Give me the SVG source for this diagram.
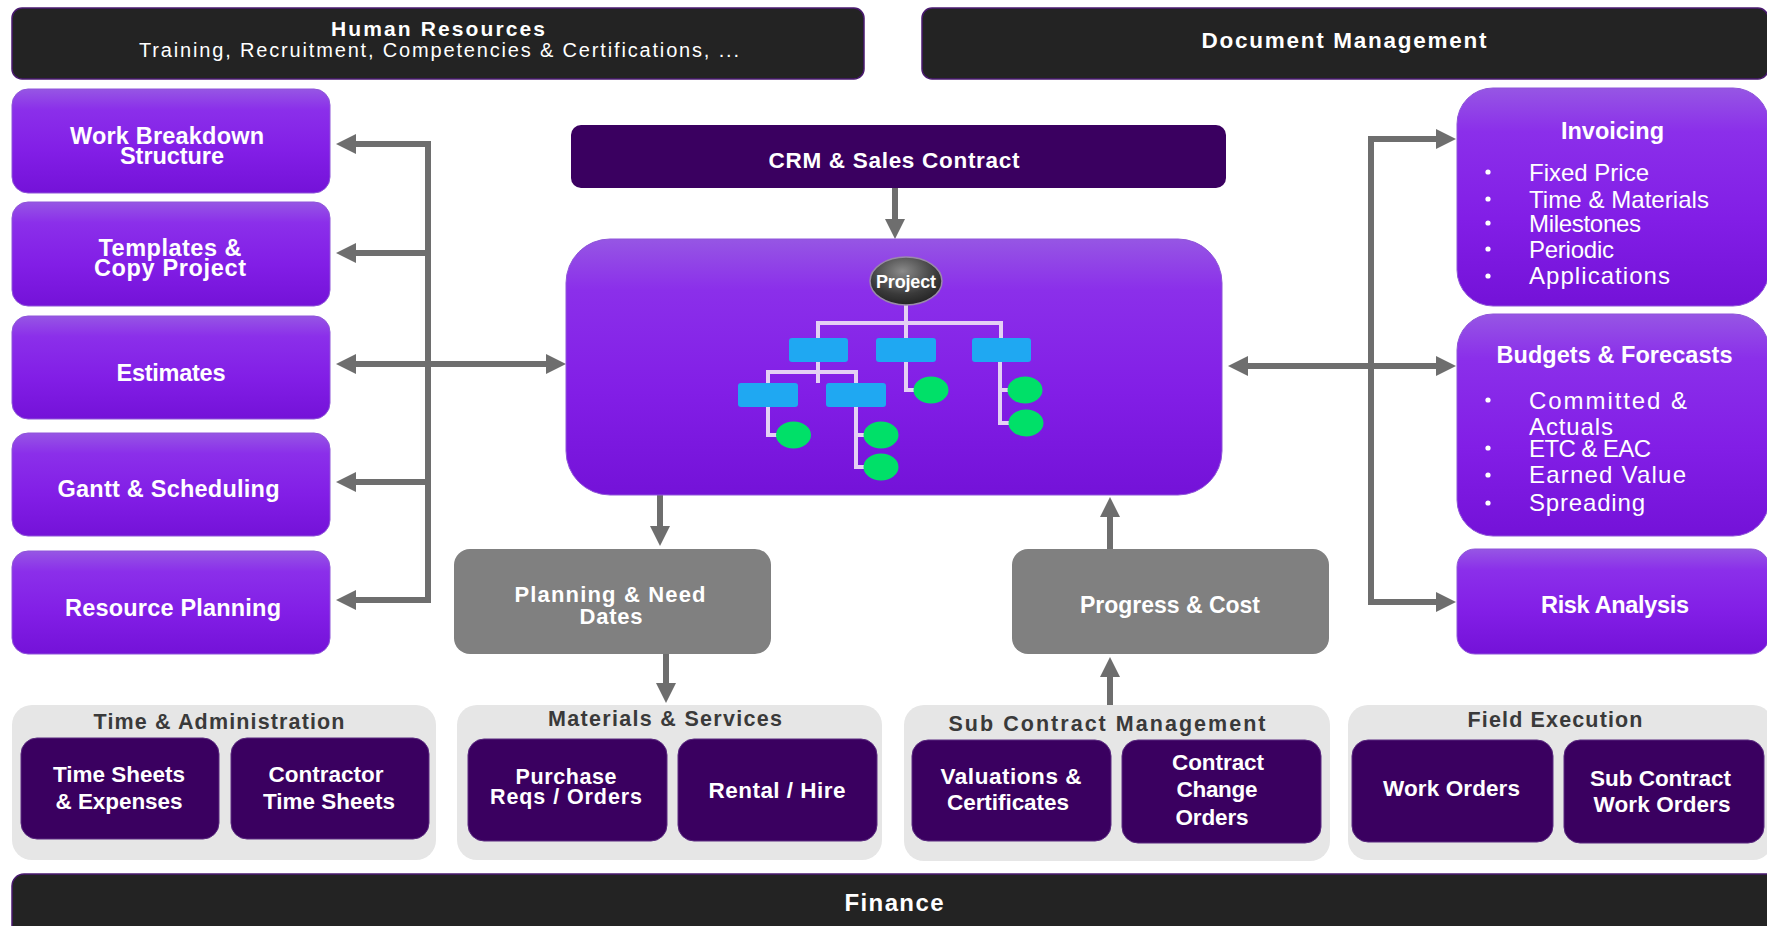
<svg xmlns="http://www.w3.org/2000/svg" width="1767" height="926" viewBox="0 0 1767 926">
<defs>
  <linearGradient id="purp" x1="0" y1="0" x2="0" y2="1">
    <stop offset="0" stop-color="#9656e4"/>
    <stop offset="0.2" stop-color="#8b2fea"/>
    <stop offset="0.6" stop-color="#821ee6"/>
    <stop offset="1" stop-color="#7412d8"/>
  </linearGradient>
  <radialGradient id="projg" cx="0.45" cy="0.3" r="0.8">
    <stop offset="0" stop-color="#8a8a8a"/>
    <stop offset="0.6" stop-color="#3a3a3a"/>
    <stop offset="1" stop-color="#1a1a1a"/>
  </radialGradient>
  <marker id="ah" markerUnits="userSpaceOnUse" viewBox="0 0 20 20" markerWidth="20" markerHeight="20" refX="10" refY="10" orient="auto-start-reverse">
    <path d="M0,0 L20,10 L0,20 Z" fill="#6e6e6e"/>
  </marker>
  <style>
    .bar{fill:#232323;stroke:#4a1a70;stroke-width:1.5}
    .pbox{fill:url(#purp);stroke:#8e55d8;stroke-width:1}
    .dbox{fill:#3a0060;stroke:#5a2a80;stroke-width:1}
    .gbox{fill:#808080}
    .grp{fill:#e6e6e6}
    .wb{font-family:"Liberation Sans",Arial,sans-serif;font-weight:bold;fill:#ffffff;text-anchor:middle}
    .wr{font-family:"Liberation Sans",Arial,sans-serif;fill:#ffffff}
    .gt{font-family:"Liberation Sans",Arial,sans-serif;font-weight:bold;fill:#3a3a3a;text-anchor:middle}
    .c{stroke:#6e6e6e;stroke-width:6;fill:none}
    .ar{marker-end:url(#ah)}
    .ar2{marker-start:url(#ah);marker-end:url(#ah)}
    .tree{stroke:#e4d0f4;stroke-width:4;fill:none}
    .blue{fill:#1fa8f2}
    .green{fill:#00e068}
  </style>
</defs>
<rect width="1767" height="926" fill="#ffffff"/>

<g id="connectors">
  <path class="c" d="M428,141 V603"/>
  <path class="c ar" d="M431,144 H346"/>
  <path class="c ar" d="M431,253 H346"/>
  <path class="c ar2" d="M346,364 H556"/>
  <path class="c ar" d="M431,482 H346"/>
  <path class="c ar" d="M431,600 H346"/>
  <path class="c" d="M1371,136 V605"/>
  <path class="c ar" d="M1368,139 H1446"/>
  <path class="c ar2" d="M1238,366 H1446"/>
  <path class="c ar" d="M1368,602 H1446"/>
  <path class="c ar" d="M895,188 V229"/>
  <path class="c ar" d="M660,495 V536"/>
  <path class="c ar" d="M666,654 V693"/>
  <path class="c ar" d="M1110,549 V507"/>
  <path class="c ar" d="M1110,705 V667"/>
</g>

<g id="human-resources">
  <rect class="bar" x="12" y="8" width="852" height="71" rx="10"/>
  <text class="wb" x="438" y="35.5" font-size="21" textLength="214">Human Resources</text>
  <text class="wr" x="439" y="57" font-size="20" text-anchor="middle" textLength="600">Training, Recruitment, Competencies &amp; Certifications, ...</text>
</g>
<g id="document-management">
  <rect class="bar" x="922" y="8" width="846" height="71" rx="10"/>
  <text class="wb" x="1344" y="47.5" font-size="22.5" textLength="285">Document Management</text>
</g>

<g id="wbs">
  <rect class="pbox" x="12" y="89" width="318" height="104" rx="16"/>
  <text class="wb" x="167" y="143.5" font-size="23.5" textLength="194">Work Breakdown</text>
  <text class="wb" x="172" y="164" font-size="23.5" textLength="104">Structure</text>
</g>
<g id="templates">
  <rect class="pbox" x="12" y="202" width="318" height="104" rx="16"/>
  <text class="wb" x="170" y="255.5" font-size="23.5" textLength="143">Templates &amp;</text>
  <text class="wb" x="170" y="275.5" font-size="23.5" textLength="152">Copy Project</text>
</g>
<g id="estimates">
  <rect class="pbox" x="12" y="316" width="318" height="103" rx="16"/>
  <text class="wb" x="171" y="380.5" font-size="23.5" textLength="109">Estimates</text>
</g>
<g id="gantt">
  <rect class="pbox" x="12" y="433" width="318" height="103" rx="16"/>
  <text class="wb" x="168.5" y="497" font-size="23.5" textLength="222">Gantt &amp; Scheduling</text>
</g>
<g id="resource-planning">
  <rect class="pbox" x="12" y="551" width="318" height="103" rx="16"/>
  <text class="wb" x="173" y="615.5" font-size="23.5" textLength="216">Resource Planning</text>
</g>

<g id="crm">
  <rect x="571" y="125" width="655" height="63" rx="10" fill="#3a0060"/>
  <text class="wb" x="894" y="168" font-size="22.5" textLength="251">CRM &amp; Sales Contract</text>
</g>

<g id="project">
  <rect class="pbox" x="566" y="239" width="656" height="256" rx="44"/>
  <path class="tree" d="M906,305 V338 M818,338 V323 H1001 V338 M818,362 V383 M768,383 V372 H856 V383 M768,407 V435 H790 M856,407 V467 H875 M856,435 H875 M906,362 V390 H925 M1000,362 V423 H1020 M1000,390 H1020"/>
  <ellipse cx="906" cy="281" rx="36" ry="24" fill="url(#projg)" stroke="#9a8aa8" stroke-width="1.5"/>
  <text class="wb" x="906" y="288" font-size="18" textLength="60">Project</text>
  <rect class="blue" x="789" y="338" width="59" height="24" rx="3"/>
  <rect class="blue" x="876" y="338" width="60" height="24" rx="3"/>
  <rect class="blue" x="972" y="338" width="59" height="24" rx="3"/>
  <rect class="blue" x="738" y="383" width="60" height="24" rx="3"/>
  <rect class="blue" x="826" y="383" width="60" height="24" rx="3"/>
  <ellipse class="green" cx="793.5" cy="435" rx="17.5" ry="13.5"/>
  <ellipse class="green" cx="881" cy="435" rx="17.5" ry="13.5"/>
  <ellipse class="green" cx="881" cy="467" rx="17.5" ry="13.5"/>
  <ellipse class="green" cx="931" cy="390" rx="17.5" ry="13.5"/>
  <ellipse class="green" cx="1025" cy="390" rx="17.5" ry="13.5"/>
  <ellipse class="green" cx="1026" cy="423" rx="17.5" ry="13.5"/>
</g>

<g id="planning">
  <rect class="gbox" x="454" y="549" width="317" height="105" rx="16"/>
  <text class="wb" x="610" y="602" font-size="22" textLength="191">Planning &amp; Need</text>
  <text class="wb" x="611" y="623.5" font-size="22" textLength="63">Dates</text>
</g>
<g id="progress">
  <rect class="gbox" x="1012" y="549" width="317" height="105" rx="16"/>
  <text class="wb" x="1170" y="613" font-size="23" textLength="180">Progress &amp; Cost</text>
</g>

<g id="invoicing">
  <rect class="pbox" x="1457" y="88" width="312" height="218" rx="36"/>
  <text class="wb" x="1612.5" y="139" font-size="23.5" textLength="103">Invoicing</text>
  <g fill="#ffffff">
    <circle cx="1488" cy="172" r="2.6"/><circle cx="1488" cy="199" r="2.6"/><circle cx="1488" cy="223" r="2.6"/><circle cx="1488" cy="249" r="2.6"/><circle cx="1488" cy="276" r="2.6"/>
  </g>
  <text class="wr" x="1529" y="180.5" font-size="24" textLength="120">Fixed Price</text>
  <text class="wr" x="1529" y="207.5" font-size="24" textLength="180">Time &amp; Materials</text>
  <text class="wr" x="1529" y="231.5" font-size="24" textLength="112">Milestones</text>
  <text class="wr" x="1529" y="257.5" font-size="24" textLength="85">Periodic</text>
  <text class="wr" x="1529" y="284" font-size="24" textLength="141">Applications</text>
</g>
<g id="budgets">
  <rect class="pbox" x="1457" y="314" width="312" height="222" rx="36"/>
  <text class="wb" x="1614.5" y="363" font-size="23.5" textLength="236">Budgets &amp; Forecasts</text>
  <g fill="#ffffff">
    <circle cx="1488" cy="400" r="2.6"/><circle cx="1488" cy="448" r="2.6"/><circle cx="1488" cy="475" r="2.6"/><circle cx="1488" cy="503" r="2.6"/>
  </g>
  <text class="wr" x="1529" y="408.5" font-size="24" textLength="158">Committed &amp;</text>
  <text class="wr" x="1529" y="435" font-size="24" textLength="84">Actuals</text>
  <text class="wr" x="1529" y="456.5" font-size="24" textLength="122">ETC &amp; EAC</text>
  <text class="wr" x="1529" y="483" font-size="24" textLength="157">Earned Value</text>
  <text class="wr" x="1529" y="511" font-size="24" textLength="116">Spreading</text>
</g>
<g id="risk">
  <rect class="pbox" x="1457" y="549" width="312" height="105" rx="18"/>
  <text class="wb" x="1615" y="613" font-size="23.5" textLength="148">Risk Analysis</text>
</g>

<g id="time-admin">
  <rect class="grp" x="12" y="705" width="424" height="155" rx="20"/>
  <text class="gt" x="219" y="729" font-size="21.5" textLength="251">Time &amp; Administration</text>
  <rect class="dbox" x="21" y="738" width="198" height="101" rx="16"/>
  <text class="wb" x="119" y="782" font-size="22.5" textLength="132">Time Sheets</text>
  <text class="wb" x="119" y="808.5" font-size="22.5" textLength="127">&amp; Expenses</text>
  <rect class="dbox" x="231" y="738" width="198" height="101" rx="16"/>
  <text class="wb" x="326" y="782" font-size="22.5" textLength="115">Contractor</text>
  <text class="wb" x="329" y="808.5" font-size="22.5" textLength="132">Time Sheets</text>
</g>
<g id="materials">
  <rect class="grp" x="457" y="705" width="425" height="155" rx="20"/>
  <text class="gt" x="665" y="726" font-size="21.5" textLength="234">Materials &amp; Services</text>
  <rect class="dbox" x="468" y="739" width="199" height="102" rx="16"/>
  <text class="wb" x="566" y="783.5" font-size="21.5" textLength="101">Purchase</text>
  <text class="wb" x="566" y="803.5" font-size="21.5" textLength="152">Reqs / Orders</text>
  <rect class="dbox" x="678" y="739" width="199" height="102" rx="16"/>
  <text class="wb" x="777" y="798" font-size="22.5" textLength="137">Rental / Hire</text>
</g>
<g id="subcontract">
  <rect class="grp" x="904" y="705" width="426" height="156" rx="20"/>
  <text class="gt" x="1107" y="731" font-size="21.5" textLength="317">Sub Contract Management</text>
  <rect class="dbox" x="912" y="740" width="199" height="101" rx="16"/>
  <text class="wb" x="1011" y="783.5" font-size="22.5" textLength="141">Valuations &amp;</text>
  <text class="wb" x="1008" y="809.5" font-size="22.5" textLength="122">Certificates</text>
  <rect class="dbox" x="1122" y="740" width="199" height="103" rx="16"/>
  <text class="wb" x="1218" y="769.5" font-size="22.5" textLength="92">Contract</text>
  <text class="wb" x="1217" y="796.5" font-size="22.5" textLength="81">Change</text>
  <text class="wb" x="1212" y="825" font-size="22.5" textLength="73">Orders</text>
</g>
<g id="field-execution">
  <rect class="grp" x="1348" y="705" width="425" height="155" rx="20"/>
  <text class="gt" x="1555" y="726.5" font-size="21.5" textLength="175">Field Execution</text>
  <rect class="dbox" x="1352" y="740" width="201" height="102" rx="16"/>
  <text class="wb" x="1451.5" y="795.5" font-size="22.5" textLength="137">Work Orders</text>
  <rect class="dbox" x="1564" y="740" width="200" height="103" rx="16"/>
  <text class="wb" x="1660.5" y="785.5" font-size="22.5" textLength="141">Sub Contract</text>
  <text class="wb" x="1662" y="812" font-size="22.5" textLength="137">Work Orders</text>
</g>

<g id="finance">
  <rect class="bar" x="12" y="874" width="1770" height="70" rx="12"/>
  <text class="wb" x="894" y="911" font-size="24" textLength="99">Finance</text>
</g>
</svg>
